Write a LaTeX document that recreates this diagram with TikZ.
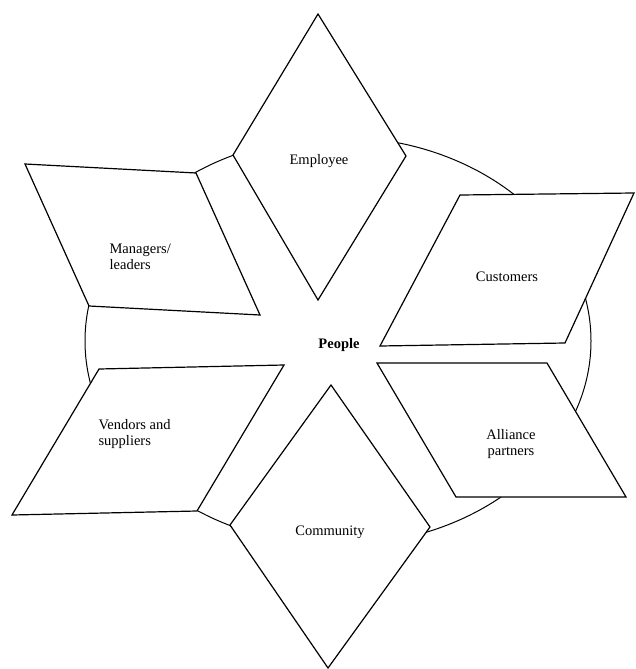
\documentclass[tikz,border=0pt]{standalone}
\usepackage{fontspec}
\setmainfont{Liberation Serif}
\begin{document}
\begin{tikzpicture}[x=1pt,y=-1pt,line width=1.2pt,
  shapebox/.style={draw=black,fill=white,line join=miter},
  lbl/.style={font=\fontsize{14.5}{16.5}\selectfont,inner sep=0pt},
  ring/.style={draw=black,line width=1pt}]
\useasboundingbox (0,0) rectangle (636,669);
% ring
\draw[ring] (338,341) ellipse [x radius=253, y radius=204];
% Employee diamond
\path[shapebox] (318,14) -- (406,156) -- (318,300) -- (233,155) -- cycle;
% Community diamond
\path[shapebox] (331,385) -- (430,527) -- (328,668) -- (230,525) -- cycle;
% Customers
\path[shapebox] (460,195) -- (634,193) -- (565,343) -- (380,346) -- cycle;
% Alliance partners
\path[shapebox] (377,363) -- (547,363) -- (626,497) -- (456,497) -- cycle;
% Managers/leaders
\path[shapebox] (25,164) -- (196,173) -- (260,315) -- (89,306) -- cycle;
% Vendors and suppliers
\path[shapebox] (99,369) -- (284,365) -- (197,511) -- (12,515) -- cycle;
% labels
\node[lbl] (emp) at (319,161) {Employee};
\node[lbl] (cus) at (507,277) {Customers};
\node[lbl,font=\fontsize{14.5}{16.5}\selectfont\bfseries] (ppl) at (339,345) {People};
\node[lbl,align=left,anchor=west] (man) at (109,257) {Managers/\\leaders};
\node[lbl,align=left,anchor=west] (ven) at (98,434) {Vendors and\\suppliers};
\node[lbl,align=center] (all) at (511,444) {Alliance\\partners};
\node[lbl] (com) at (330,532) {Community};
\end{tikzpicture}
\end{document}
